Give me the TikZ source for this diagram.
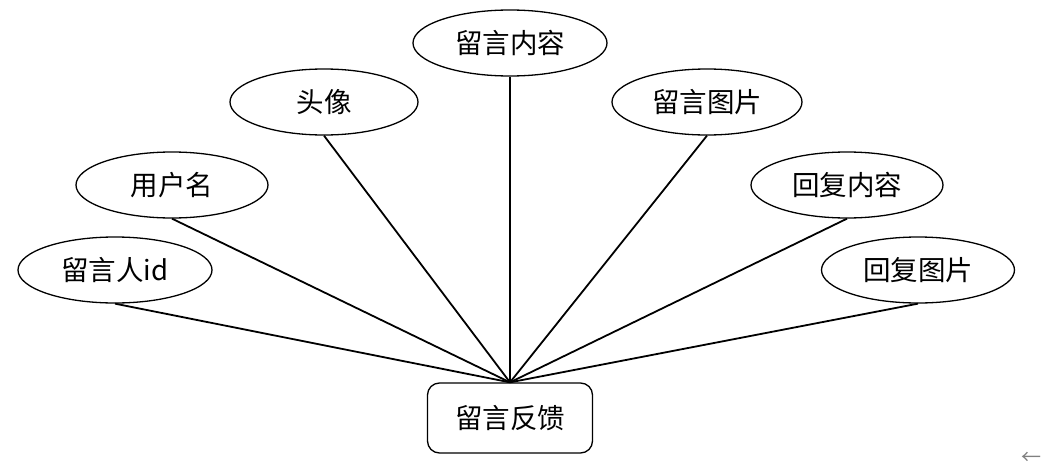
\documentclass[tikz,border=0pt]{standalone}
\usepackage{fontspec}
\setmainfont{Noto Sans CJK SC}
\usetikzlibrary{shapes.geometric}
\begin{document}
\begin{tikzpicture}[x=1pt,y=-1pt,
  attr/.style={draw=black,line width=1.3pt,ellipse,minimum width=194pt,minimum height=66pt,inner sep=0pt,font=\fontsize{27.5}{32}\selectfont},
  ent/.style={draw=black,line width=1.3pt,rounded corners=12pt,minimum width=165pt,minimum height=70pt,inner sep=0pt,font=\fontsize{27.5}{32}\selectfont},
  link/.style={line width=1.8pt}]
\useasboundingbox (0,0) rectangle (1041,471);
\node[attr] (nr) at (510,43) {留言内容};
\node[attr,minimum width=188pt] (tx) at (324,102) {头像};
\node[attr,minimum width=190pt] (tp) at (707,102) {留言图片};
\node[attr,minimum width=192pt] (yh) at (172,185) {用户名};
\node[attr,minimum width=192pt] (hn) at (847,185) {回复内容};
\node[attr] (id) at (115,270) {留言人id};
\node[attr,minimum width=193pt] (ht) at (918,270) {回复图片};
\node[ent] (fk) at (510,418) {留言反馈};
\foreach \n in {nr,tx,tp,yh,hn,id,ht}
  \draw[link] (\n.south) -- (fk.north);
\node[text=gray,font=\fontsize{20}{22}\selectfont,inner sep=0pt] (arr) at (1031,458) {←};
\end{tikzpicture}
\end{document}
